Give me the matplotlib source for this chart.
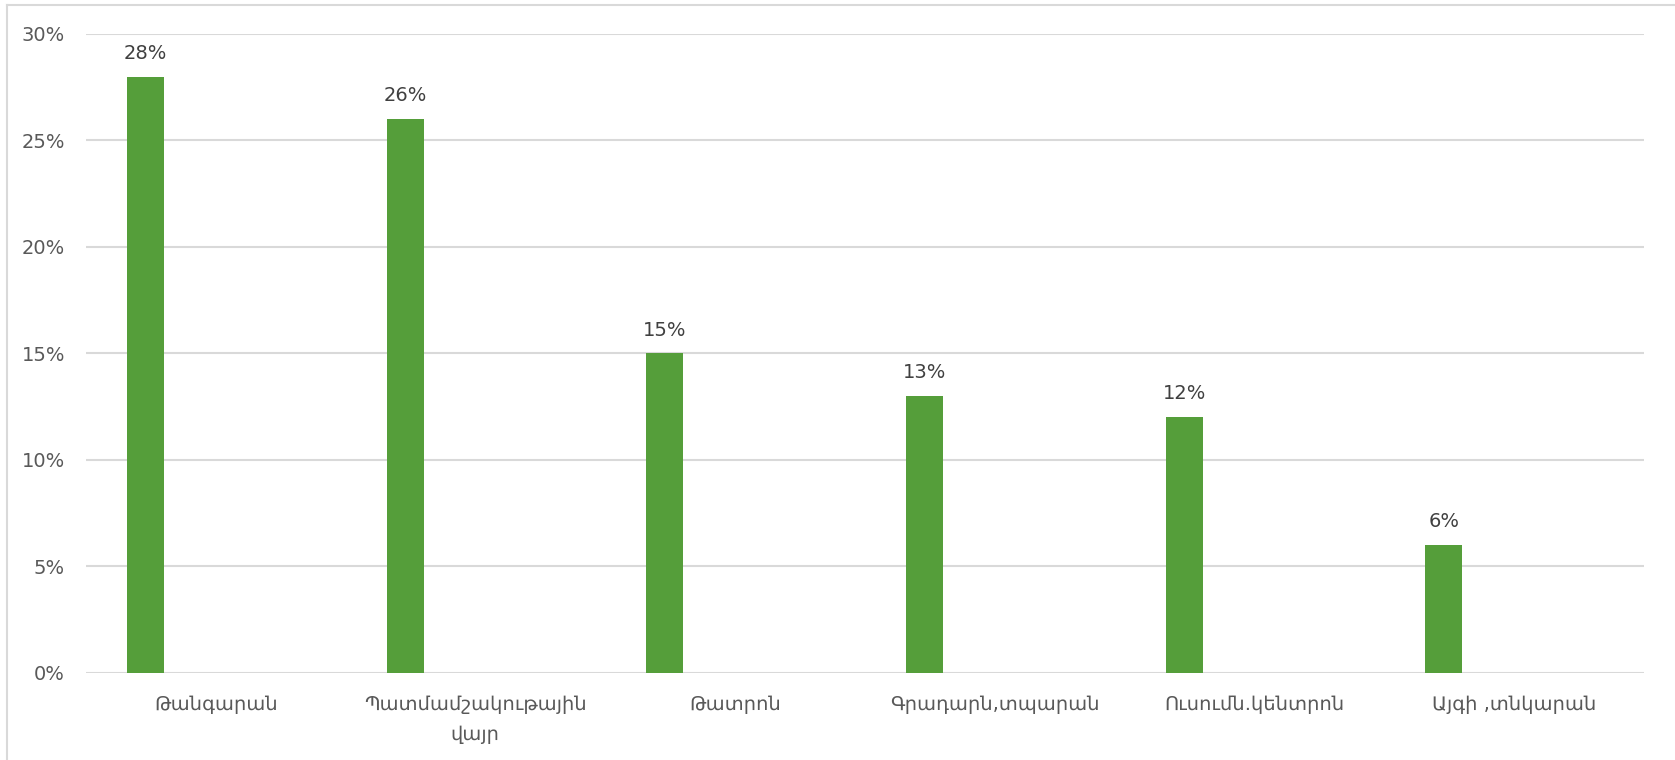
import matplotlib.pyplot as plt
import numpy as np
from matplotlib.lines import Line2D

categories = ['Թանգարան', 'Պատմամշակութային\nվայր', 'Թատրոն',
              'Գրադարն,տպարան', 'Ուսումն.կենտրոն', 'Այգի ,տնկարան']
values = [28, 26, 15, 13, 12, 6]
yticks = [0, 5, 10, 15, 20, 25, 30]

plt.rcParams['font.family'] = ['DejaVu Sans']

fig = plt.figure(figsize=(16.75, 7.6), dpi=100)
ax = fig.add_axes([0.0513, 0.1145, 0.930, 0.8408])

x = np.arange(len(categories))
bars = ax.bar(x - 0.27, values, width=0.142, color='#559E3A', zorder=3)

for b, v in zip(bars, values):
    ax.annotate(f'{v}%', (b.get_x() + b.get_width() / 2, v),
                xytext=(0, 10), textcoords='offset points',
                ha='center', va='bottom', fontsize=14, color='#404040')

ax.set_xlim(-0.5, len(categories) - 0.5)
ax.set_ylim(0, 30)
ax.set_yticks(yticks)
ax.set_yticklabels([f'{t}%' for t in yticks])
ax.set_xticks(x)
ax.set_xticklabels(categories, linespacing=1.7)

ax.grid(axis='y', color='#D9D9D9', linewidth=1.5, zorder=0)
ax.tick_params(axis='both', length=0, labelsize=14, colors='#595959')
ax.tick_params(axis='x', pad=16)
ax.tick_params(axis='y', pad=15)
for s in ax.spines.values():
    s.set_visible(False)

# outer frame (top and left visible)
fig.add_artist(Line2D([7 / 1675, 1], [1 - 5 / 760, 1 - 5 / 760],
                      transform=fig.transFigure, color='#D9D9D9', linewidth=1.5))
fig.add_artist(Line2D([7 / 1675, 7 / 1675], [0, 1 - 5 / 760],
                      transform=fig.transFigure, color='#D9D9D9', linewidth=1.5))

fig.savefig('out.png', dpi=100, facecolor='white')
